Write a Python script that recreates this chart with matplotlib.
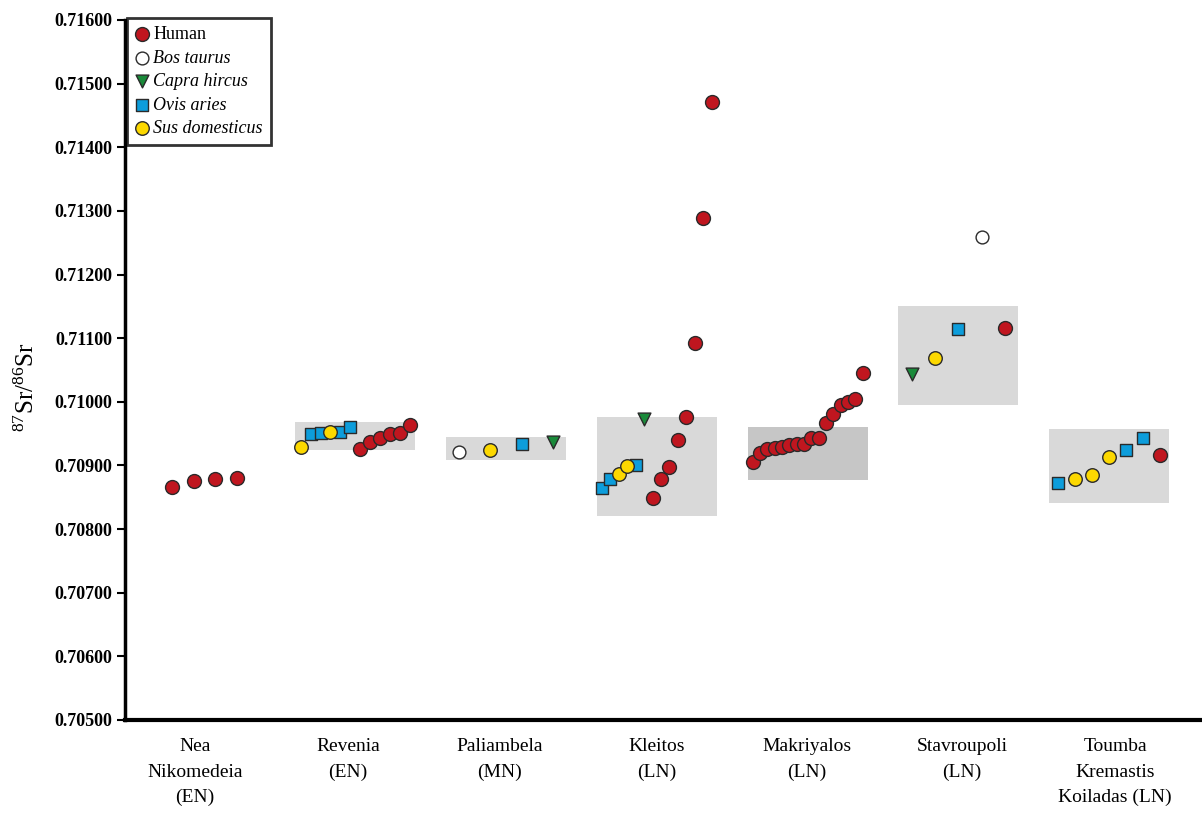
import matplotlib
matplotlib.use("Agg")
import matplotlib.pyplot as plt
import numpy as np

plt.rcParams['font.family'] = ['Liberation Serif', 'DejaVu Serif']
plt.rcParams['mathtext.fontset'] = 'custom'
plt.rcParams['mathtext.rm'] = 'Liberation Serif'
plt.rcParams['mathtext.it'] = 'Liberation Serif:italic'

# ---- data ----
sites = ["Nea\nNikomedeia\n(EN)", "Revenia\n(EN)", "Paliambela\n(MN)", "Kleitos\n(LN)",
         "Makriyalos\n(LN)", "Stavroupoli\n(LN)", "Toumba\nKremastis\nKoiladas (LN)"]

human = [
    [0.70866, 0.70875, 0.70878, 0.70880],
    [0.70926, 0.70937, 0.70943, 0.70949, 0.70951, 0.70964],
    [],
    [0.70849, 0.70879, 0.70897, 0.70940, 0.70976, 0.71092, 0.71289, 0.71471],
    [0.70905, 0.70919, 0.70926, 0.70927, 0.70929, 0.70932, 0.70933, 0.70933,
     0.70943, 0.70943, 0.70967, 0.70981, 0.70995, 0.70999, 0.71004, 0.71045],
    [0.71116],
    [0.70916],
]
bos_taurus = [[], [], [0.70921], [], [], [0.71259], []]
capra_hircus = [[], [], [0.70937], [0.70973], [], [0.71044], []]
ovis_aries = [[], [0.70950, 0.70951, 0.70953, 0.70960], [0.70934],
              [0.70864, 0.70878, 0.70901], [], [0.71115], [0.70873, 0.70924, 0.70943]]
sus_domesticus = [[], [0.70929, 0.70952], [0.70925], [0.70886, 0.70899], [],
                  [0.71069], [0.70879, 0.70885, 0.70913]]

# shaded local baseline ranges (bottom, top); None = no range
range_low = [None, 0.70924, 0.70909, 0.70820, 0.70877, 0.70995, 0.70841]
range_high = [None, 0.70968, 0.70944, 0.70976, 0.70961, 0.71151, 0.70957]

yticks = [0.705, 0.706, 0.707, 0.708, 0.709, 0.710, 0.711, 0.712, 0.713, 0.714, 0.715, 0.716]

# ---- layout / style ----
group_span = [0.431, 0.723, 0.623, 0.729, 0.729, 0.617, 0.676]
label_pos = [-0.062, 0.952, 1.960, 3.0, 3.996, 5.024, 6.04]
range_color = ['#d9d9d9', '#d9d9d9', '#d9d9d9', '#d9d9d9', '#c6c6c6', '#d9d9d9', '#d9d9d9']

species = [
    ("Bos taurus", bos_taurus, dict(marker='o', facecolor='white', s=85)),
    ("Capra hircus", capra_hircus, dict(marker='v', facecolor='#1a8a3a', s=85)),
    ("Ovis aries", ovis_aries, dict(marker='s', facecolor='#0d9ddb', s=75)),
    ("Sus domesticus", sus_domesticus, dict(marker='o', facecolor='#fcd800', s=95)),
]
human_style = dict(marker='o', facecolor='#c0161f', s=100)

fig = plt.figure(figsize=(12.02, 8.19), dpi=100)
ax = fig.add_axes([125/1202, 99/819, 1075/1202, 700/819])

# shaded boxes
for i in range(len(sites)):
    if range_low[i] is not None:
        ax.bar(i, range_high[i] - range_low[i], bottom=range_low[i], width=0.796,
               color=range_color[i], edgecolor='none', zorder=1)

# points: fauna sorted by value, then humans
collected = {name: ([], []) for name, _, _ in species}
collected["Human"] = ([], [])
for i in range(len(sites)):
    fauna = []
    for name, arr, _ in species:
        for v in arr[i]:
            fauna.append((v, name))
    fauna.sort(key=lambda t: t[0])
    pts = fauna + [(v, "Human") for v in sorted(human[i])]
    n = len(pts)
    if n == 1:
        xs = [i]
    else:
        xs = np.linspace(i - group_span[i] / 2, i + group_span[i] / 2, n)
    for x, (v, name) in zip(xs, pts):
        collected[name][0].append(x)
        collected[name][1].append(v)

handles = {}
hx, hy = collected["Human"]
handles["Human"] = ax.scatter(hx, hy, edgecolor='#2a2a2a', linewidth=1.0, zorder=3,
                              label="Human", **human_style)
for name, _, st in species:
    xs, ys = collected[name]
    handles[name] = ax.scatter(xs, ys, edgecolor='#2a2a2a', linewidth=1.0, zorder=3,
                               label=name, **st)

ax.set_xlim(-0.5265, 6.602)
ax.set_ylim(0.705, 0.716)
ax.set_yticks(yticks)
ax.set_yticklabels([f"{t:.5f}" for t in yticks], fontsize=13, fontweight='bold')
ax.set_xticks(label_pos)
ax.set_xticklabels(sites, fontsize=14, linespacing=1.65)
ax.tick_params(axis='x', length=0, pad=13)
ax.tick_params(axis='y', length=6, width=1.5, direction='out', pad=3)

for sp in ['top', 'right']:
    ax.spines[sp].set_visible(False)
ax.spines['left'].set_linewidth(2.5)
ax.spines['bottom'].set_linewidth(3)

fig.text(27/1202, 1 - 387/819, r'$^{87}$Sr/$^{86}$Sr', rotation=90, ha='center',
         va='center', fontsize=18)

order = ["Human", "Bos taurus", "Capra hircus", "Ovis aries", "Sus domesticus"]
leg = ax.legend([handles[k] for k in order], order, loc='upper left',
                bbox_to_anchor=(0.002, 1.003), borderaxespad=0, frameon=True,
                fancybox=False, edgecolor='black', fontsize=13, markerscale=1.0,
                handlelength=0.7, handletextpad=0.3, labelspacing=0.36,
                borderpad=0.45, scatterpoints=1)
leg.get_frame().set_linewidth(2)
for t in leg.get_texts():
    if t.get_text() != "Human":
        t.set_fontstyle('italic')

fig.savefig("out.png", dpi=100)
